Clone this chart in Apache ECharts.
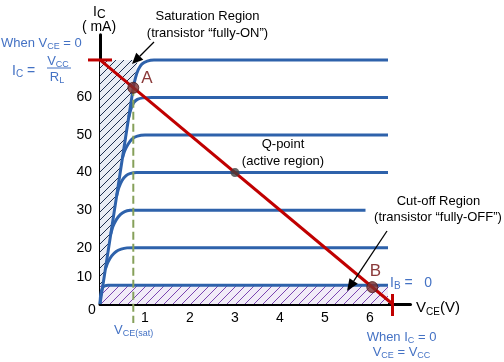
<!DOCTYPE html>
<html><head><meta charset="utf-8">
<script src="https://cdn.jsdelivr.net/npm/echarts@6/dist/echarts.min.js"></script>
<style>html,body{margin:0;padding:0;background:#fff}#c{width:504px;height:362px}</style>
</head><body><div id="c"></div>
<script>
// ---- data (VCE in volts, IC in the chart's mA units) ----
const xTicks = [0, 1, 2, 3, 4, 5, 6];
const yTicks = [10, 20, 30, 40, 50, 60];
const curve70 = [[0,5],[0.37,33.8],[0.74,62.6],[0.79,65.3],[0.85,67.4],[0.93,68.9],[1.05,69.7],[1.2,70],[6.4,70]];
const curve60 = [[0.64,54.8],[0.69,57],[0.75,58.6],[0.83,59.5],[0.95,59.9],[1.15,60],[6.4,60]];
const curve50 = [[0.5,43.9],[0.55,45.8],[0.62,47.5],[0.71,48.9],[0.83,49.7],[1.0,50],[6.4,50]];
const curve40 = [[0.37,33.8],[0.42,36],[0.49,37.9],[0.58,39.2],[0.68,39.8],[0.82,40],[6.4,40]];
const curve30 = [[0.24,23.7],[0.29,25.7],[0.36,27.4],[0.45,28.8],[0.55,29.6],[0.67,29.95],[0.8,30],[5.9,30]];
const curve20 = [[0.12,14.3],[0.18,16.2],[0.26,17.8],[0.36,19],[0.47,19.6],[0.6,19.95],[0.75,20],[6.4,20]];
const curveIB0 = [[0,5],[0.015,7.4],[0.05,9.2],[0.1,9.8],[0.18,10],[6.4,10]];
const satRegion = [[0,5],[0.835,70],[0,70]];
const cutRegion = [[0,5],[6.4,5],[6.4,10],[0,10]];
const loadLine = [[0,70],[6.5,5]];
const vceSat = 0.74;
const pointA = [0.74, 62.6];
const pointQ = [3, 40];
const pointB = [6.05, 9.5];
const yMin = 5, yMax = 76.7, xMax = 6.9;

const FONT = 'Liberation Sans, Arial, sans-serif';
const CURVE = '#2e62ab';
const TBLUE = '#4472c4';
const RED = '#c00000';
const BROWN = '#8b3a3a';

function hatch(bg, fg, size) {
  const c = document.createElement('canvas'); c.width = c.height = size;
  const g = c.getContext('2d'); g.fillStyle = bg; g.fillRect(0, 0, size, size);
  g.strokeStyle = fg; g.lineWidth = 1;
  g.beginPath();
  g.moveTo(0, size); g.lineTo(size, 0);
  g.moveTo(-2, 2); g.lineTo(2, -2);
  g.moveTo(size - 2, size + 2); g.lineTo(size + 2, size - 2);
  g.stroke();
  return c;
}
const satPat = hatch('#e9edf5', '#1f3050', 8);
const cutPat = hatch('#f1ecf8', '#7a45b0', 9);

function regionSeries(pts, pat) {
  return {
    type: 'custom', z: 1, data: [pts[0]], silent: true,
    renderItem: (p, api) => ({
      type: 'polygon',
      shape: { points: pts.map(q => api.coord(q)) },
      style: { fill: { image: pat, repeat: 'repeat' }, stroke: null }
    })
  };
}
function curveSeries(d) {
  return { type: 'line', data: d, smooth: 0.25, symbol: 'none', z: 3, clip: false,
    lineStyle: { color: CURVE, width: 3 } };
}

function sub(main, subs, col, ms, ss) {
  return {
    m: { fontSize: ms, fontFamily: FONT, fill: col, lineHeight: ms + 3 },
    s: { fontSize: ss, fontFamily: FONT, fill: col, verticalAlign: 'bottom', lineHeight: ss }
  };
}
function txt(x, y, text, o) {
  o = o || {};
  const col = o.fill || '#000';
  return { type: 'text', x: x, y: y, z: 100, silent: true,
    style: { text: text, fill: col, fontSize: o.size || 13, fontFamily: FONT,
      align: o.align || 'center', verticalAlign: 'middle',
      rich: o.rich ? sub(null, null, col, o.ms || 13, o.ss || 9) : undefined } };
}
function arrow(x1, y1, x2, y2, len, hw) {
  const dx = x2 - x1, dy = y2 - y1, L = Math.hypot(dx, dy);
  const ux = dx / L, uy = dy / L, px = -uy, py = ux;
  const bx = x2 - ux * len, by = y2 - uy * len;
  return [
    { type: 'line', z: 100, shape: { x1: x1, y1: y1, x2: bx, y2: by }, style: { stroke: '#000', lineWidth: 1.3 } },
    { type: 'polygon', z: 100, shape: { points: [[x2, y2], [bx + px * hw, by + py * hw], [bx - px * hw, by - py * hw]] }, style: { fill: '#000' } }
  ];
}

const chart = echarts.init(document.getElementById('c'), null, { renderer: 'canvas' });
const option = {
  animation: false,
  backgroundColor: '#fff',
  grid: { left: 100, right: 93.5, top: 34.8, bottom: 58, outerBoundsMode: 'none' },
  xAxis: {
    type: 'value', min: 0, max: xMax,
    axisLine: { lineStyle: { color: '#000', width: 3 } },
    axisTick: { show: false }, splitLine: { show: false },
    axisLabel: { customValues: xTicks, fontSize: 14, fontFamily: FONT, color: '#000',
      verticalAlign: 'middle', margin: 14,
      formatter: v => v === 0 ? '{z|0}' : String(v),
      rich: { z: { padding: [0, 16, 16, 0] } } }
  },
  yAxis: {
    type: 'value', min: yMin, max: yMax,
    axisLine: { lineStyle: { color: '#000', width: 3 } },
    axisTick: { show: false }, splitLine: { show: false },
    axisLabel: { customValues: yTicks, fontSize: 14, fontFamily: FONT, color: '#000', margin: 8,
      formatter: v => v === 10 ? '{u|10}' : String(v),
      rich: { u: { padding: [0, 0, 16, 0] } } }
  },
  series: [
    regionSeries(satRegion, satPat),
    regionSeries(cutRegion, cutPat),
    curveSeries(curve70), curveSeries(curve60), curveSeries(curve50),
    curveSeries(curve40), curveSeries(curve30), curveSeries(curve20), curveSeries(curveIB0),
    { type: 'custom', z: 4, data: [[vceSat, pointA[1]]], silent: true,
      renderItem: (p, api) => {
        const top = api.coord([api.value(0), api.value(1)]);
        const bot = api.coord([api.value(0), yMin]);
        return { type: 'line', shape: { x1: top[0], y1: top[1], x2: bot[0], y2: bot[1] + 19 },
          style: { stroke: '#86a05a', lineWidth: 2, lineDash: [8, 4] } };
      } },
    { type: 'line', data: loadLine, symbol: 'none', z: 5, clip: false,
      lineStyle: { color: RED, width: 3 } },
    { type: 'custom', z: 5, data: loadLine, silent: true,
      renderItem: (p, api) => {
        const c = api.coord([api.value(0), api.value(1)]);
        const shape = p.dataIndex === 0
          ? { x1: c[0] - 12, y1: c[1], x2: c[0] + 12, y2: c[1] }
          : { x1: c[0], y1: c[1] - 10, x2: c[0], y2: c[1] + 12 };
        return { type: 'line', shape: shape, style: { stroke: RED, lineWidth: 3 } };
      } },
    { type: 'scatter', z: 6, data: [
        { value: pointA, symbolSize: 11, itemStyle: { color: '#7e3030', borderColor: '#4a1c1c', borderWidth: 1 } },
        { value: pointQ, symbolSize: 9, itemStyle: { color: '#404040' } },
        { value: pointB, symbolSize: 11, itemStyle: { color: '#7e3030', borderColor: '#4a1c1c', borderWidth: 1 } }
      ] }
  ],
  graphic: [].concat(
    [
      txt(93, 12, '{m|I}{s|C}', { align: 'left', rich: true, ms: 14, ss: 12 }),
      txt(99, 27, '( mA)', { size: 14 }),
      txt(1, 43, '{m|When V}{s|CE}{m| = 0}', { align: 'left', rich: true, fill: TBLUE }),
      txt(12, 71, '{m|I}{s|C}{m| = }', { align: 'left', rich: true, fill: TBLUE, ms: 14, ss: 10 }),
      txt(58, 61, '{m|V}{s|CC}', { rich: true, fill: TBLUE }),
      { type: 'line', z: 100, shape: { x1: 47, y1: 68, x2: 71, y2: 68 }, style: { stroke: TBLUE, lineWidth: 1 } },
      txt(57, 77, '{m|R}{s|L}', { rich: true, fill: TBLUE }),
      txt(207.5, 16, 'Saturation Region'),
      txt(207.5, 33, '(transistor \u201cfully-ON\u201d)'),
      txt(147, 78, 'A', { size: 17, fill: BROWN }),
      txt(375.5, 271, 'B', { size: 17, fill: BROWN }),
      txt(283, 144, 'Q-point'),
      txt(283, 161, '(active region)'),
      txt(438.5, 201, 'Cut-off Region'),
      txt(438, 217, '(transistor \u201cfully-OFF\u201d)'),
      txt(390, 283, '{m|I}{s|B}{m| =   0}', { align: 'left', rich: true, fill: TBLUE, ms: 14, ss: 10 }),
      txt(416, 308, '{m|V}{s|CE}{m|(V)}', { align: 'left', rich: true, ms: 15, ss: 10 }),
      txt(114, 330, '{m|V}{s|CE(sat)}', { align: 'left', rich: true, fill: TBLUE }),
      txt(401.5, 337, '{m|When I}{s|C}{m| = 0}', { rich: true, fill: TBLUE }),
      txt(401.5, 352, '{m|V}{s|CE}{m| = V}{s|CC}', { rich: true, fill: TBLUE })
    ],
    arrow(154, 42, 132, 64, 11, 5),
    arrow(387, 231, 347, 291, 12, 5)
  )
};
chart.setOption(option);
</script></body></html>
